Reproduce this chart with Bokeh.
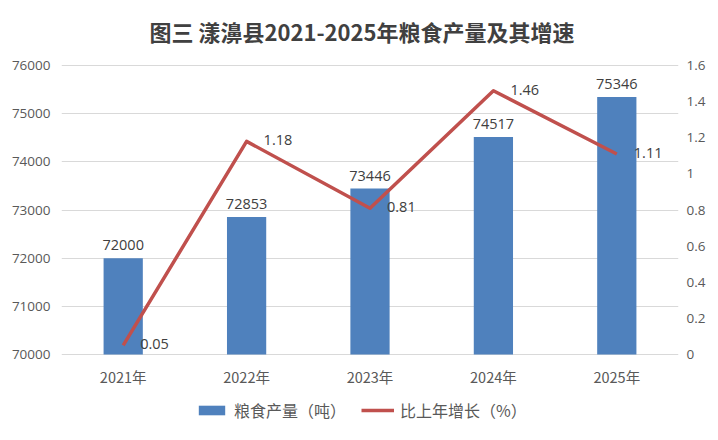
from bokeh.plotting import figure
from bokeh.models import (ColumnDataSource, FactorRange, Range1d, LinearAxis, FixedTicker,
                          LabelSet, Label, Legend, LegendItem)
from bokeh.core.properties import value
from bokeh.embed import file_html
from bokeh.resources import INLINE

years = ["2021年", "2022年", "2023年", "2024年", "2025年"]
output = [72000, 72853, 73446, 74517, 75346]
growth = [0.05, 1.18, 0.81, 1.46, 1.11]
left_ticks = [70000, 71000, 72000, 73000, 74000, 75000, 76000]
right_ticks = [0, 0.2, 0.4, 0.6, 0.8, 1.0, 1.2, 1.4, 1.6]
right_tick_labels = ["0", "0.2", "0.4", "0.6", "0.8", "1", "1.2", "1.4", "1.6"]

title = "图三 漾濞县2021-2025年粮食产量及其增速"
bar_name = "粮食产量（吨）"
line_name = "比上年增长（%）"

BLUE = "#4F81BD"
RED = "#C0504D"
GRID = "#D9D9D9"
TXT = "#595959"
LBL = "#404040"
NUM_FONT = "Open Sans"
CJK_FONT = "Noto Sans CJK SC"

# layout (pixels): the frame spans the full height; the value band sits between
FIG_H = 432
BAND_TOP = 65
BAND_BOTTOM = 354


def extend(lo, hi):
    per_px = (hi - lo) / (BAND_BOTTOM - BAND_TOP)
    return lo - (FIG_H - BAND_BOTTOM) * per_px, hi + BAND_TOP * per_px


src = ColumnDataSource(dict(
    x=years, top=output, g=growth,
    base=[left_ticks[0]] * len(years),
    top_s=[str(v) for v in output],
    g_s=[f"{v:.2f}" for v in growth],
))

y0, y1 = extend(left_ticks[0], left_ticks[-1])
r0, r1 = extend(right_ticks[0], right_ticks[-1])

p = figure(x_range=FactorRange(*years), y_range=Range1d(y0, y1),
           frame_width=617, frame_height=FIG_H, output_backend="svg", toolbar_location=None,
           min_border_left=61, min_border_right=32, min_border_top=0, min_border_bottom=0)
p.extra_y_ranges = {"pct": Range1d(r0, r1)}

p.outline_line_color = None
p.background_fill_color = "white"
p.border_fill_color = "white"
p.xaxis.visible = False

bars = p.vbar(x="x", top="top", bottom="base", width=0.318, source=src,
              fill_color=BLUE, line_color=None)
line = p.line(x="x", y="g", source=src, y_range_name="pct", line_color=RED,
              line_width=3.5, line_join="round")

# left axis
ya = p.yaxis[0]
ya.ticker = FixedTicker(ticks=left_ticks)
ya.axis_line_color = None
ya.major_tick_line_color = None
ya.minor_tick_line_color = None
ya.major_tick_out = 0
ya.major_label_standoff = 11
ya.major_label_text_font = NUM_FONT
ya.major_label_text_font_size = "13.5px"
ya.major_label_text_color = TXT

# right axis
ra = LinearAxis(y_range_name="pct", ticker=FixedTicker(ticks=right_ticks))
ra.major_label_overrides = {t: s for t, s in zip(right_ticks, right_tick_labels)}
ra.axis_line_color = None
ra.major_tick_line_color = None
ra.minor_tick_line_color = None
ra.major_tick_out = 0
ra.major_label_standoff = 8
ra.major_label_text_font = NUM_FONT
ra.major_label_text_font_size = "13.5px"
ra.major_label_text_color = TXT
p.add_layout(ra, "right")

p.xgrid.grid_line_color = None
p.ygrid.grid_line_color = GRID
p.ygrid.ticker = FixedTicker(ticks=left_ticks)

# title
p.add_layout(Label(x=len(years) / 2, y=y1, text=title, x_offset=-8, y_offset=-30,
                   text_align="center", text_baseline="middle", text_font=CJK_FONT,
                   text_font_style="bold", text_font_size="22px", text_color=LBL))

# category labels under the baseline
p.add_layout(LabelSet(x="x", y="base", text="x", source=src, text_align="center",
                      text_baseline="middle", y_offset=-22, text_font=value(CJK_FONT),
                      text_font_size=value("14.5px"), text_color=TXT))

# data labels
p.add_layout(LabelSet(x="x", y="top", text="top_s", source=src, text_align="center",
                      text_baseline="bottom", y_offset=8, text_font=value(NUM_FONT),
                      text_font_size=value("14.5px"), text_color=LBL))
p.add_layout(LabelSet(x="x", y="g", text="g_s", source=src, y_range_name="pct",
                      text_align="left", text_baseline="middle", x_offset=17, y_offset=1,
                      text_font=value(NUM_FONT), text_font_size=value("14.5px"),
                      text_color=LBL))

legend = Legend(items=[LegendItem(label=bar_name, renderers=[bars]),
                       LegendItem(label=line_name, renderers=[line])],
                orientation="horizontal", location=(134, 10),
                glyph_width=33, glyph_height=12, label_standoff=6, spacing=15,
                label_height=16,
                label_text_font=CJK_FONT, label_text_font_size="16px",
                label_text_color=TXT, border_line_color=None,
                background_fill_alpha=0, margin=0, padding=0)
p.add_layout(legend)

open("out.html", "w").write(file_html(p, INLINE))
